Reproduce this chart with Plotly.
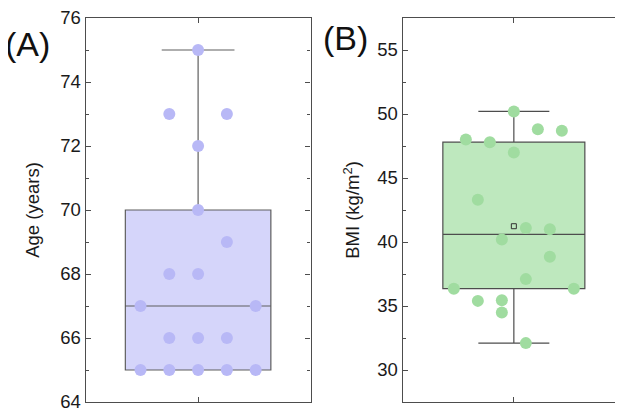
import numpy as np
import plotly.graph_objects as go

# ---- data ----
age_values = [75, 73, 73, 72, 70, 69, 68, 68, 67, 67, 66, 66, 66, 65, 65, 65, 65, 65]
age_column = [0, -1, 1, 0, 0, 1, -1, 0, -2, 2, -1, 0, 1, -2, -1, 0, 1, 2]

bmi_values = [50.2, 48.8, 48.7, 48.0, 47.8, 47.0, 43.3, 41.1, 41.0, 40.2,
              38.85, 37.1, 36.35, 36.35, 35.4, 35.45, 34.5, 32.1]
bmi_column = [0, 2, 4, -4, -2, 0, -3, 1, 3, -1, 3, 1, -5, 5, -3, -1, -1, 1]

age_ticks = [64, 66, 68, 70, 72, 74, 76]
bmi_ticks = [30, 35, 40, 45, 50, 55]

# ---- styling ----
W, H = 623, 410
OFF = 8  # page body margin
FONT = "Liberation Sans, Arial, sans-serif"
LINE = "#4d4d4d"
A_LINE = "#5e5e5e"
A_FILL, A_PT = "rgb(213,213,250)", "rgb(184,184,246)"
B_FILL, B_PT = "rgb(190,232,190)", "rgb(160,220,160)"

A_STEP = 28.7 / 224.0
B_STEP = 12.0 / 222.3


def px(v):
    return (v - OFF) / W


def py(v):
    return 1 - (v - OFF) / H


fig = go.Figure()

fig.add_trace(go.Box(
    y=age_values, x0=1, xaxis="x", yaxis="y", boxpoints=False,
    quartilemethod="exclusive", width=145 / 224.0, whiskerwidth=0.5,
    fillcolor=A_FILL, line=dict(color=A_LINE, width=1.2), showlegend=False,
))
fig.add_trace(go.Scatter(
    x=[1], y=[float(np.mean(age_values))], xaxis="x", yaxis="y", mode="markers",
    marker=dict(symbol="square-open", size=5, color="#333", line=dict(width=1)),
    showlegend=False,
))
fig.add_trace(go.Scatter(
    x=[1 + c * A_STEP for c in age_column], y=age_values, xaxis="x", yaxis="y",
    mode="markers", marker=dict(size=12, color=A_PT, line=dict(width=0)),
    showlegend=False,
))

fig.add_trace(go.Box(
    y=bmi_values, x0=1, xaxis="x2", yaxis="y2", boxpoints=False,
    quartilemethod="exclusive", width=142 / 222.3, whiskerwidth=0.5,
    fillcolor=B_FILL, line=dict(color=LINE, width=1.2), showlegend=False,
))
fig.add_trace(go.Scatter(
    x=[1], y=[float(np.mean(bmi_values))], xaxis="x2", yaxis="y2", mode="markers",
    marker=dict(symbol="square-open", size=5, color="#333", line=dict(width=1)),
    showlegend=False,
))
fig.add_trace(go.Scatter(
    x=[1 + c * B_STEP for c in bmi_column], y=bmi_values, xaxis="x2", yaxis="y2",
    mode="markers", marker=dict(size=12, color=B_PT, line=dict(width=0)),
    showlegend=False,
))

ydom = [py(402), py(18)]
common_x = dict(showline=True, linecolor=LINE, linewidth=1.2, mirror="ticks",
                ticks="inside", ticklen=5, tickcolor=LINE, tickvals=[1],
                showticklabels=False, showgrid=False, zeroline=False, automargin=False)
common_y = dict(showline=True, linecolor=LINE, linewidth=1.2, automargin=False,
                mirror="ticks", ticks="inside", ticklen=5, tickcolor=LINE, showgrid=False,
                zeroline=False, ticklabeloverflow="allow",
                tickfont=dict(size=18.5, color="#1a1a1a"),
                title_font=dict(size=18.5, color="#1a1a1a"))

fig.update_layout(
    width=W, height=H, margin=dict(l=0, r=0, t=0, b=0, pad=0),
    paper_bgcolor="white", plot_bgcolor="white",
    font=dict(family=FONT, color="#1a1a1a"),
    xaxis=dict(domain=[px(85.7), px(310.5)], range=[0.5, 1.5], anchor="y", **common_x),
    yaxis=dict(domain=ydom, range=[64, 76], tickvals=age_ticks, anchor="x",
               title=dict(text="Age (years)", standoff=15),
               minor=dict(ticks="inside", ticklen=3, dtick=1, tickcolor=LINE),
               **common_y),
    xaxis2=dict(domain=[px(402.7), px(625)], range=[0.5, 1.5],
                anchor="y2", **common_x),
    yaxis2=dict(domain=ydom, range=[27.5, 57.5], tickvals=bmi_ticks, anchor="x2",
                title=dict(text="BMI (kg/m<sup>2</sup>)", standoff=12),
                minor=dict(ticks="inside", ticklen=3, dtick=2.5, tick0=27.5, tickcolor=LINE),
                **common_y),
    annotations=[
        dict(text="(A)", x=px(28), y=py(44), xref="paper", yref="paper",
             xanchor="center", yanchor="middle",
             showarrow=False, font=dict(size=34, color="#111")),
        dict(text="(B)", x=px(345), y=py(38), xref="paper", yref="paper",
             xanchor="center", yanchor="middle",
             showarrow=False, font=dict(size=34, color="#111")),
    ],
)

fig.write_html("out.html")
